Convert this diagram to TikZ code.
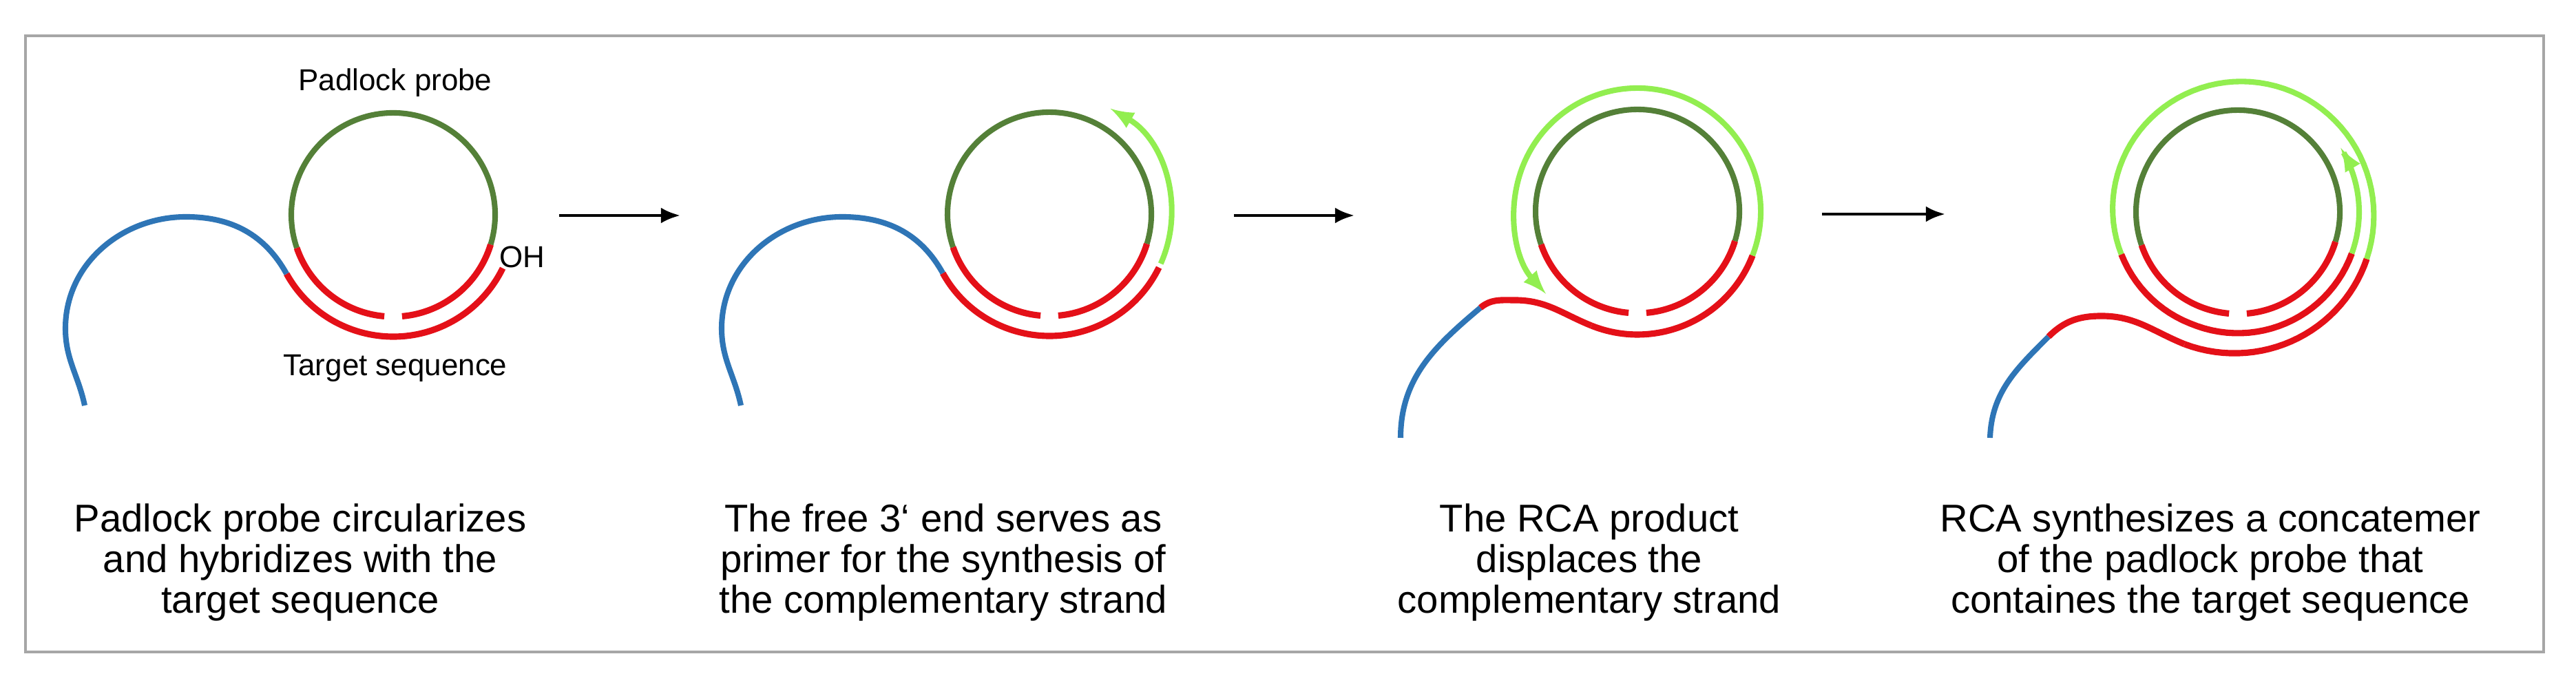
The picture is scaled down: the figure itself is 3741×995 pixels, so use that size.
\documentclass[tikz,border=0pt]{standalone}
\usepackage{fontspec}
\setmainfont{Liberation Sans}
\usetikzlibrary{arrows.meta}
\definecolor{probegreen}{RGB}{84,128,56}
\definecolor{targetred}{RGB}{228,16,24}
\definecolor{newgreen}{RGB}{146,238,80}
\definecolor{strandblue}{RGB}{46,117,182}
\tikzset{
    probe/.style={probegreen, line width=2.3pt},
    target/.style={targetred, line width=2.6pt},
    newdna/.style={newgreen, line width=2.3pt},
    dna/.style={strandblue, line width=2.3pt},
    steparrow/.style={-{Latex[length=8pt,width=6.5pt]}, line width=1.3pt},
    seqlabel/.style={font=\fontsize{12.5}{14}\selectfont},
    caption/.style={align=center, font=\fontsize{16}{16.8}\selectfont}
}
\begin{document}
\begin{tikzpicture}[x=0.01cm, y=0.01cm,
    declare function={spr(\t)=max(176,207-31*(\t-248)/360);}]
    \useasboundingbox (0,0) rectangle (3741,995);
    \draw[gray!70, line width=1.1pt] (37,48) rectangle (3694,943);
    % centres of the padlock probes
    \coordinate (c1) at (571,683);
    \coordinate (c2) at (1524,684);
    \coordinate (c3) at (2378,688);
    \coordinate (c4) at (3250,687);
    \foreach \c in {c1,c2,c3,c4} {
        \draw[probe] ([shift={(-17:148)}]\c) arc[start angle=-17, end angle=199, radius=148];
        \draw[target] ([shift={(199:148)}]\c) arc[start angle=199, end angle=265, radius=148];
        \draw[target] ([shift={(275:148)}]\c) arc[start angle=275, end angle=343, radius=148];
    }
    % step 1 and 2: target strand
    \foreach \c/\dx in {1/0,2/953} {
        \coordinate (b\c) at (123+\dx,406);
        \coordinate (l\c) at (95+\dx,518);
        \coordinate (k\c) at (270+\dx,680);
        \coordinate (j\c) at ([shift={(209:177)}]c\c);
        \draw[target] (j\c) arc[start angle=209, end angle=334, radius=177];
        \draw[dna] (b\c) to[out=102,in=270] (l\c) to[out=90,in=180] (k\c) to[out=0,in=119] (j\c);
    }
    \draw[newdna, -latex] ([shift={(-24:177)}]c2) arc[start angle=-24, end angle=60, radius=177];
    % step 3
    \coordinate (b3) at (2034,359);
    \coordinate (m3) at (2150,548);
    \coordinate (k3) at (2200,559);
    \coordinate (e3) at ([shift={(248:179)}]c3);
    \draw[target] (e3) arc[start angle=248, end angle=339, radius=179];
    \draw[newdna, -latex] ([shift={(-21:179)}]c3) arc[start angle=-21, end angle=222, radius=179];
    \draw[dna] (b3) to[out=90,in=220] (m3);
    \draw[target] (m3) to[out=40,in=180] (k3) to[out=0,in=158] (e3);
    % step 4
    \coordinate (b4) at (2890,359);
    \coordinate (m4) at (2975,506);
    \coordinate (k4) at (3052,536);
    \coordinate (e4) at ([shift={(248:207)}]c4);
    \draw[target, shift={(c4)}] plot[domain=248:340, samples=30] ({spr(\x)*cos(\x)},{spr(\x)*sin(\x)});
    \draw[newdna, shift={(c4)}] plot[domain=340:560, samples=60] ({spr(\x)*cos(\x)},{spr(\x)*sin(\x)});
    \draw[target, shift={(c4)}] plot[domain=560:700, samples=40] ({spr(\x)*cos(\x)},{spr(\x)*sin(\x)});
    \draw[newdna, -latex, shift={(c4)}] plot[domain=700:752, samples=20] ({spr(\x)*cos(\x)},{spr(\x)*sin(\x)});
    \draw[dna] (b4) to[out=88,in=225] (m4);
    \draw[target] (m4) to[out=45,in=180] (k4) to[out=0,in=158] (e4);
    % labels
    \node[seqlabel] (probelbl) at (574,875) {Padlock probe};
    \node[seqlabel] (targetlbl) at (574,460) {Target sequence};
    \node[seqlabel] (ohlbl) at (758,622) {OH};
    % arrows between the steps
    \coordinate (a1) at (812,682); \coordinate (a1e) at (988,682);
    \coordinate (a2) at (1792,682); \coordinate (a2e) at (1967,682);
    \coordinate (a3) at (2646,684); \coordinate (a3e) at (2825,684);
    \draw[steparrow] (a1) -- (a1e);
    \draw[steparrow] (a2) -- (a2e);
    \draw[steparrow] (a3) -- (a3e);
    % captions
    \node[caption] (cap1) at (436,178) {Padlock probe circularizes\\and hybridizes with the\\target sequence};
    \node[caption] (cap2) at (1370,178) {The free 3‘ end serves as\\primer for the synthesis of\\the complementary strand};
    \node[caption] (cap3) at (2308,178) {The RCA product\\displaces the\\complementary strand};
    \node[caption] (cap4) at (3210,178) {RCA synthesizes a concatemer\\of the padlock probe that\\containes the target sequence};
\end{tikzpicture}
\end{document}
